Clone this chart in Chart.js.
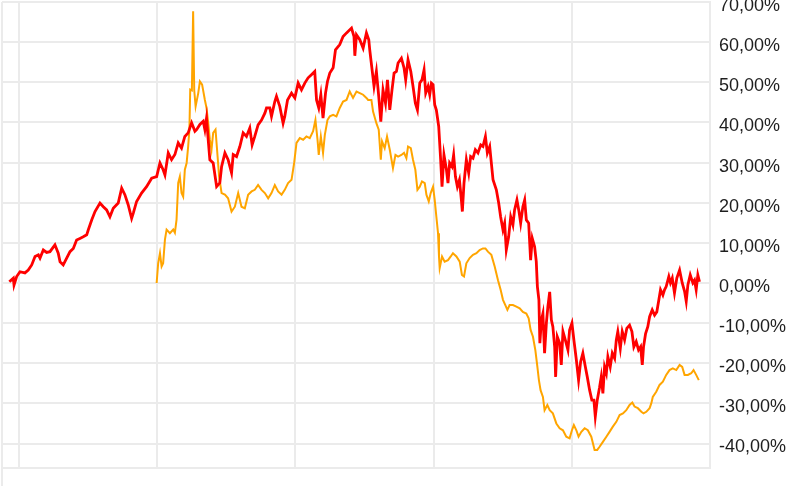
<!DOCTYPE html>
<html>
<head>
<meta charset="utf-8">
<script src="https://cdn.jsdelivr.net/npm/chart.js@4/dist/chart.umd.min.js"></script>
<style>
  html, body { margin: 0; padding: 0; background: #ffffff; }
  #wrap { width: 812px; height: 486px; position: relative; }
</style>
</head>
<body>
<div id="wrap"><canvas id="c" width="812" height="486"></canvas></div>
<script>
// time in years since first yearly gridline
const redT = [-0.070,-0.041,-0.036,-0.017,0.007,0.043,0.067,0.092,0.116,0.140,0.152,0.176,0.200,0.224,0.260,0.284,0.297,0.320,0.345,0.369,0.393,0.417,0.441,0.465,0.490,0.501,0.526,0.550,0.586,0.610,0.634,0.658,0.682,0.718,0.743,0.766,0.790,0.815,0.827,0.851,0.887,0.923,0.960,0.996,1.020,1.043,1.056,1.080,1.104,1.128,1.152,1.176,1.200,1.224,1.249,1.273,1.285,1.309,1.333,1.345,1.357,1.369,1.381,1.405,1.430,1.453,1.466,1.490,1.513,1.538,1.550,1.574,1.598,1.622,1.646,1.670,1.687,1.706,1.730,1.755,1.779,1.791,1.815,1.827,1.851,1.863,1.887,1.911,1.923,1.943,1.972,1.996,2.020,2.044,2.068,2.092,2.116,2.140,2.153,2.169,2.184,2.200,2.218,2.232,2.249,2.273,2.290,2.321,2.345,2.370,2.406,2.424,2.430,2.442,2.466,2.490,2.514,2.531,2.538,2.555,2.569,2.586,2.603,2.618,2.634,2.652,2.666,2.683,2.699,2.714,2.731,2.743,2.767,2.786,2.798,2.815,2.835,2.851,2.868,2.883,2.900,2.916,2.931,2.943,2.960,2.972,2.984,2.996,3.008,3.020,3.037,3.051,3.061,3.075,3.093,3.104,3.116,3.133,3.145,3.158,3.172,3.187,3.201,3.208,3.220,3.237,3.254,3.268,3.285,3.302,3.321,3.341,3.357,3.375,3.389,3.406,3.430,3.454,3.471,3.485,3.502,3.514,3.526,3.543,3.558,3.574,3.586,3.603,3.618,3.630,3.646,3.659,3.671,3.688,3.702,3.714,3.731,3.743,3.751,3.762,3.769,3.780,3.791,3.803,3.816,3.827,3.840,3.852,3.863,3.876,3.883,3.895,3.912,3.924,3.936,3.953,3.972,3.984,4.001,4.015,4.033,4.049,4.064,4.080,4.098,4.112,4.129,4.145,4.160,4.170,4.184,4.201,4.213,4.225,4.237,4.250,4.261,4.278,4.293,4.310,4.322,4.333,4.351,4.365,4.382,4.398,4.418,4.435,4.449,4.466,4.483,4.498,4.510,4.519,4.534,4.550,4.563,4.582,4.599,4.615,4.630,4.642,4.659,4.671,4.683,4.702,4.714,4.727,4.743,4.760,4.780,4.799,4.816,4.828,4.840,4.857,4.876,4.888,4.900,4.912,4.924];
const redValues = [0.3,1.2,-0.5,1.6,2.8,2.5,3.2,4.5,6.6,7.0,6.2,8.2,7.6,7.8,9.5,7.4,5.3,4.5,6.2,7.8,8.6,10.7,11.1,11.5,12.0,13.2,15.7,17.8,19.9,19.0,18.2,16.5,18.6,19.9,23.6,22.0,19.5,16.1,17.4,20.3,22.4,24.0,26.1,26.5,29.9,28.2,26.9,32.4,30.7,32.0,34.9,33.6,36.5,37.4,39.9,37.8,38.2,39.5,40.3,38.2,41.1,35.7,30.7,29.9,24.0,24.9,29.0,32.4,30.7,27.4,32.0,31.5,34.0,37.4,36.5,38.6,34.4,36.5,39.4,40.6,42.3,43.6,43.6,41.5,45.2,46.5,44.0,39.8,41.5,45.6,47.3,46.1,49.8,48.1,49.8,51.1,51.9,52.7,45.6,43.6,46.9,41.1,47.3,50.2,52.3,53.6,58.1,59.4,61.4,62.3,63.5,61.4,56.6,61.8,60.6,58.5,62.3,60.6,58.1,53.1,49.0,52.7,46.5,40.2,48.1,44.8,50.6,43.1,48.1,52.3,52.7,54.8,56.0,53.6,50.6,55.6,52.7,49.0,44.8,43.1,49.8,50.6,53.1,47.3,49.0,46.9,49.8,49.4,44.4,43.1,39.0,30.7,24.0,31.9,28.2,24.9,29.9,29.0,31.9,26.5,24.0,25.7,20.7,17.8,24.9,30.7,27.4,31.5,31.1,33.2,32.4,34.4,34.0,36.5,32.4,34.0,25.7,23.2,19.9,16.5,13.2,14.9,8.2,11.5,16.5,14.5,18.2,20.7,17.8,14.9,19.0,20.7,15.7,14.9,5.7,11.1,9.0,5.3,-0.9,-4.2,-15.0,-9.2,-7.6,-17.5,-10.0,-5.9,-2.2,-9.2,-10.9,-15.9,-23.4,-13.4,-15.0,-20.4,-12.1,-14.2,-16.7,-11.7,-10.0,-14.2,-19.2,-24.2,-19.6,-17.5,-20.9,-23.4,-26.7,-29.2,-29.2,-33.3,-29.2,-26.0,-23.4,-27.5,-20.9,-22.5,-18.4,-20.9,-17.5,-18.8,-14.2,-12.1,-16.3,-12.1,-14.2,-11.3,-10.5,-12.1,-15.9,-14.6,-16.7,-15.9,-20.4,-15.9,-12.6,-10.9,-8.4,-6.7,-8.0,-7.2,-4.2,-1.7,-3.0,-1.7,-0.9,1.6,0.0,1.2,-2.5,1.2,3.2,0.0,-2.1,-4.6,-0.5,2.0,0.0,0.7,-1.7,2.0,0.3];

const orangeT = [0.996,1.007,1.020,1.032,1.043,1.056,1.068,1.092,1.116,1.128,1.140,1.152,1.164,1.176,1.188,1.200,1.213,1.224,1.233,1.239,1.251,1.260,1.268,1.278,1.297,1.309,1.325,1.345,1.357,1.369,1.381,1.393,1.405,1.422,1.437,1.448,1.466,1.490,1.513,1.538,1.562,1.586,1.610,1.634,1.658,1.683,1.706,1.730,1.755,1.779,1.803,1.827,1.851,1.875,1.900,1.923,1.947,1.972,1.991,2.008,2.032,2.056,2.080,2.104,2.128,2.145,2.160,2.169,2.184,2.200,2.213,2.232,2.249,2.273,2.297,2.321,2.345,2.370,2.393,2.417,2.442,2.466,2.490,2.514,2.526,2.550,2.562,2.586,2.603,2.618,2.627,2.646,2.663,2.683,2.706,2.724,2.743,2.767,2.786,2.803,2.815,2.835,2.851,2.868,2.883,2.900,2.916,2.936,2.948,2.965,2.979,2.996,3.008,3.020,3.032,3.039,3.044,3.061,3.080,3.104,3.124,3.140,3.165,3.189,3.205,3.220,3.237,3.261,3.285,3.310,3.333,3.357,3.375,3.393,3.418,3.442,3.466,3.485,3.502,3.519,3.534,3.550,3.574,3.599,3.623,3.646,3.671,3.688,3.702,3.719,3.736,3.751,3.762,3.774,3.791,3.803,3.823,3.840,3.863,3.888,3.912,3.936,3.960,3.984,4.001,4.015,4.033,4.049,4.069,4.093,4.116,4.141,4.165,4.184,4.201,4.225,4.250,4.273,4.297,4.322,4.346,4.370,4.394,4.418,4.438,4.454,4.478,4.503,4.519,4.539,4.563,4.575,4.586,4.611,4.635,4.659,4.683,4.707,4.731,4.756,4.780,4.799,4.816,4.840,4.864,4.881,4.900,4.919];
const orangeValues = [0,4.9,7.4,4.1,4.9,10.8,13.3,12.4,13.3,12.5,15.8,24.9,26.5,22.4,21.5,28.2,29.9,34.0,38.2,48.2,48.0,67.7,48.0,44.0,47.3,50.2,49.4,45.6,43.6,39.9,35.7,33.2,37.4,38.2,31.5,26.5,22.4,22.0,21.1,17.8,19.0,22.4,19.0,18.6,22.0,22.8,23.2,24.4,23.2,22.4,21.1,22.4,24.4,22.8,22.0,23.2,24.9,25.7,29.9,34.9,36.1,35.7,36.5,36.1,37.8,40.6,35.7,31.9,36.5,32.4,36.9,40.6,41.5,41.9,41.5,43.6,45.2,45.6,47.7,46.1,47.7,47.3,46.9,46.1,45.6,45.6,42.7,39.8,38.2,30.7,35.3,33.6,36.5,33.2,28.6,31.9,31.5,31.9,32.4,31.1,34.0,33.6,30.7,28.2,23.2,24.0,25.3,24.9,22.0,20.3,22.4,24.0,20.7,16.5,12.4,6.6,3.7,6.6,5.3,5.7,6.6,7.4,6.6,5.3,2.0,1.6,4.9,6.2,7.0,7.4,8.2,8.6,8.6,7.8,7.0,4.1,0.7,-1.7,-4.2,-5.5,-6.7,-5.5,-5.5,-5.9,-6.3,-7.2,-7.6,-8.8,-11.7,-13.4,-16.7,-20.9,-24.2,-26.7,-28.4,-31.7,-30.4,-31.7,-32.5,-35.0,-36.2,-36.7,-38.3,-38.7,-36.7,-35.4,-36.7,-38.3,-37.1,-36.2,-36.7,-38.3,-41.6,-41.6,-40.8,-39.6,-38.3,-37.1,-35.8,-34.6,-32.9,-32.5,-31.7,-30.4,-29.8,-30.8,-31.2,-32.1,-32.5,-32.1,-31.2,-30.0,-28.4,-27.1,-25.4,-24.6,-22.9,-21.7,-21.3,-21.7,-20.4,-20.9,-22.9,-22.9,-22.5,-21.7,-22.9,-24.2];

const yTickValues = [-40,-30,-20,-10,0,10,20,30,40,50,60,70];
const xYearTicks = [0,1,2,3,4];
const X_MIN = -0.123, X_MAX = 5.0;
const Y_MIN = -46.1, Y_MAX = 70;

if (redT.length !== redValues.length || orangeT.length !== orangeValues.length) {
  throw new Error('length mismatch red ' + redT.length + '/' + redValues.length + ' orange ' + orangeT.length + '/' + orangeValues.length);
}

const toPoints = (ts, vs) => ts.map((t, i) => ({ x: t, y: vs[i] }));
const GRID = '#ebebeb';

new Chart(document.getElementById('c'), {
  type: 'line',
  data: {
    datasets: [
      { data: toPoints(redT, redValues), borderColor: '#ff0000', borderWidth: 2.8, pointRadius: 0, tension: 0, fill: false },
      { data: toPoints(orangeT, orangeValues), borderColor: '#ffa500', borderWidth: 2, pointRadius: 0, tension: 0, fill: false }
    ]
  },
  options: {
    responsive: false,
    animation: false,
    events: [],
    layout: { padding: { left: 2, top: 2, right: 0, bottom: 0 } },
    plugins: { legend: { display: false }, tooltip: { enabled: false } },
    scales: {
      x: {
        type: 'linear',
        min: X_MIN,
        max: X_MAX,
        afterBuildTicks: (s) => { s.ticks = [{ value: X_MIN }].concat(xYearTicks.map(v => ({ value: v }))); },
        ticks: { display: false },
        grid: {
          color: GRID, lineWidth: 2, drawTicks: true, tickLength: 18,
          tickColor: (ctx) => ctx.index === 0 ? GRID : 'rgba(0,0,0,0)'
        },
        border: { display: true, color: GRID, width: 2 }
      },
      y: {
        type: 'linear',
        position: 'right',
        min: Y_MIN,
        max: Y_MAX,
        afterBuildTicks: (s) => { s.ticks = yTickValues.map(v => ({ value: v })); },
        afterFit: (s) => { s.width = 102; s.paddingTop = 0; s.paddingBottom = 0; },
        ticks: {
          padding: 9,
          labelOffset: 4,
          color: '#1e1e1e',
          font: { family: 'Liberation Sans', size: 18 },
          callback: (v) => v.toFixed(2).replace('.', ',') + '%'
        },
        grid: { color: GRID, lineWidth: 2, drawTicks: false },
        border: { display: true, color: GRID, width: 2 }
      }
    }
  }
});
</script>
</body>
</html>
